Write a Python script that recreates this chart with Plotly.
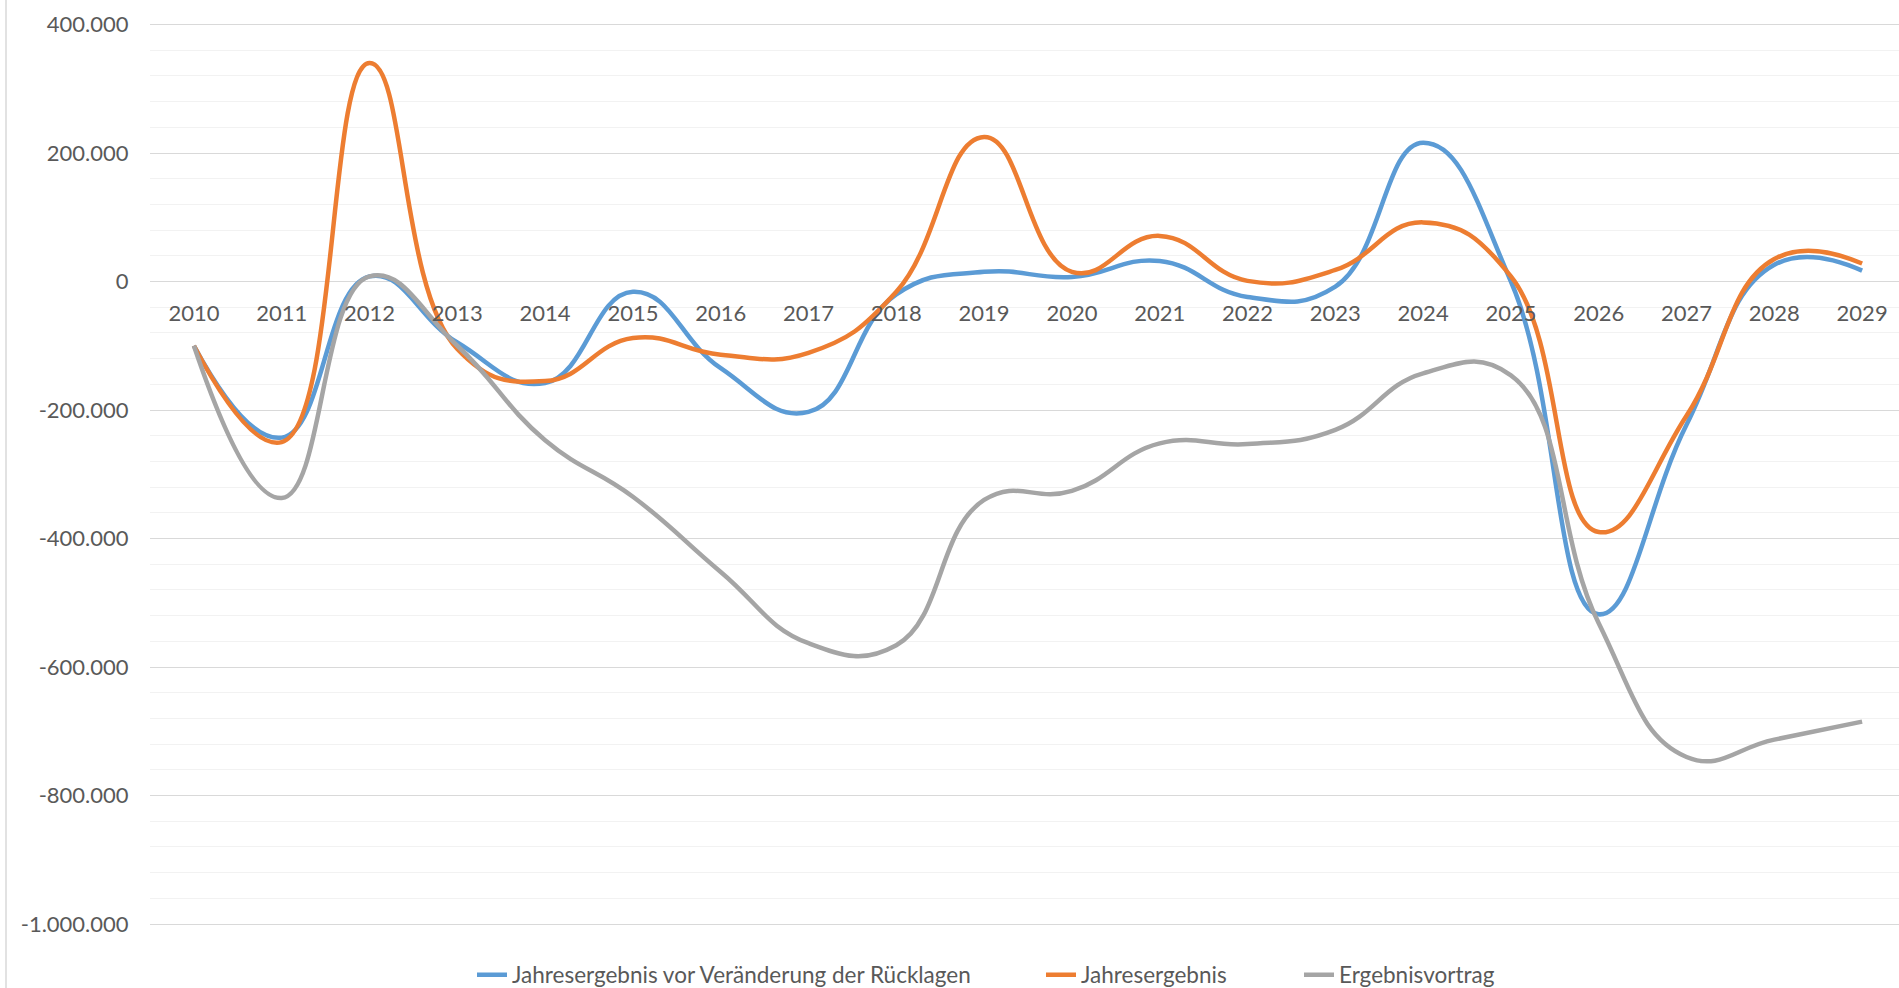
import plotly.graph_objects as go

# Jahre (Kategorien der x-Achse)
years = [str(y) for y in range(2010, 2030)]

# Werte in EUR
vor_ruecklagen = [-100000, -243000, 8000, -95000, -158000, -16000, -135000, -203000, -20000, 15000,
                  7000, 32000, -24000, -8000, 216000, 0, -518000, -223000, 26000, 17000]
jahresergebnis = [-100000, -250000, 340000, -105000, -155000, -88000, -114000, -111000, -16000, 225000,
                  15000, 71000, 1000, 18000, 92000, 8000, -390000, -209000, 35000, 28000]
ergebnisvortrag = [-100000, -337000, 8000, -100000, -247000, -335000, -452000, -563000, -566000, -340000,
                   -326000, -252000, -253000, -231000, -143000, -146000, -532000, -740000, -713000, -685000]

series_names = ["Jahresergebnis vor Veränderung der Rücklagen", "Jahresergebnis", "Ergebnisvortrag"]
series_colors = ["#5B9BD5", "#ED7D31", "#A5A5A5"]

y_tickvals = [400000, 200000, 0, -200000, -400000, -600000, -800000, -1000000]
y_ticktext = ["400.000", "200.000", "0", "-200.000", "-400.000", "-600.000", "-800.000", "-1.000.000"]

TEXT = "#595959"
FONT = "Lato"

fig = go.Figure()

legend_ids = ["legend", "legend2", "legend3"]
for name, values, color, leg in zip(series_names, [vor_ruecklagen, jahresergebnis, ergebnisvortrag],
                                    series_colors, legend_ids):
    fig.add_trace(
        go.Scatter(
            x=list(range(len(years))),
            y=values,
            name=name,
            legend=leg,
            mode="lines",
            line=dict(color=color, width=4.5, shape="spline", smoothing=1.3),
            hoverinfo="x+y",
        )
    )

# plot area: x 150..1899 px, y scale 128.5 px per 200.000
top_px, bottom_px = 20, 60
px_per_unit = 128.5 / 200000
plot_h = 988 - top_px - bottom_px
y_top = 400000 + (24.5 - top_px) / px_per_unit
y_bottom = y_top - plot_h / px_per_unit
zero_pos = (988 - bottom_px - 281.5) / plot_h


def legend_at(text_left_px):
    return dict(
        xref="container",
        yref="container",
        x=(text_left_px - 40) / 1899,
        xanchor="left",
        y=1 - 975 / 988,
        yanchor="middle",
        orientation="h",
        font=dict(size=22.5, color=TEXT),
        bgcolor="rgba(0,0,0,0)",
    )


fig.update_layout(
    width=1899,
    height=988,
    margin=dict(l=150, r=0, t=top_px, b=bottom_px, autoexpand=False),
    paper_bgcolor="#ffffff",
    plot_bgcolor="#ffffff",
    font=dict(family=FONT, color=TEXT, size=22),
    showlegend=True,
    legend=legend_at(512),
    legend2=legend_at(1081),
    legend3=legend_at(1339),
    xaxis=dict(
        range=[-0.5, 19.42],
        tickmode="array",
        tickvals=list(range(len(years))),
        ticktext=years,
        anchor="free",
        position=zero_pos,
        showgrid=False,
        zeroline=False,
        showline=False,
        ticks="outside",
        ticklen=12,
        tickcolor="rgba(0,0,0,0)",
        tickfont=dict(size=22, color=TEXT),
    ),
    yaxis=dict(
        range=[y_bottom, y_top],
        tickmode="array",
        tickvals=y_tickvals,
        ticktext=y_ticktext,
        showgrid=True,
        gridcolor="#D9D9D9",
        gridwidth=1.3,
        zeroline=False,
        showline=False,
        ticks="outside",
        ticklen=16,
        tickcolor="rgba(0,0,0,0)",
        tickfont=dict(size=22, color=TEXT),
        minor=dict(tick0=0, dtick=40000, showgrid=True, gridcolor="#F2F2F2", gridwidth=1.3),
    ),
    shapes=[
        dict(type="line", xref="paper", yref="paper", x0=-144 / 1749, x1=-144 / 1749,
             y0=-0.2, y1=1.2, line=dict(color="#D9D9D9", width=1.5)),
    ],
)

# the page body has a default 8px margin; remove it so the figure fills the window
fig.write_html(
    "out.html",
    config={"displayModeBar": False},
    post_script="document.body.style.margin = '0px';",
)
